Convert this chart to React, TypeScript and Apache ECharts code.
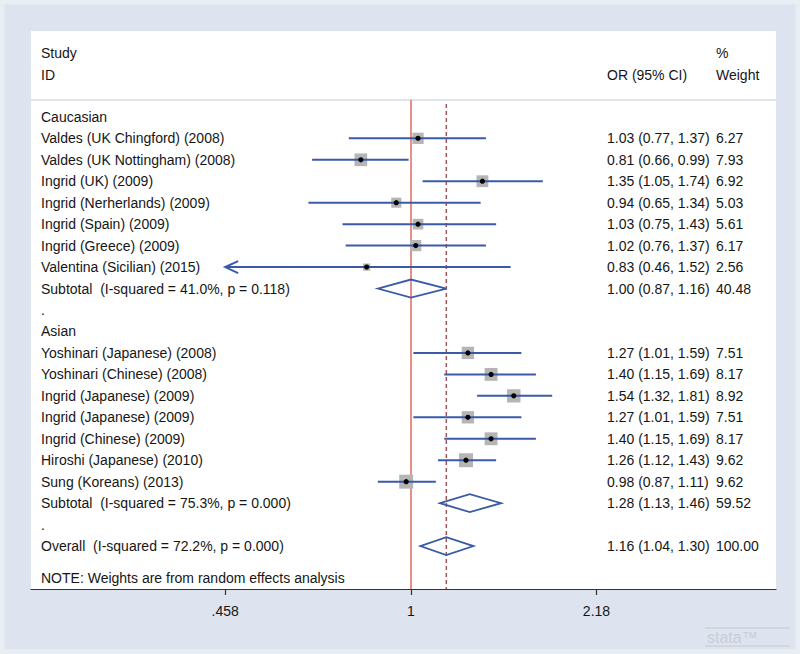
import React, { useEffect, useRef } from "react";
import * as echarts from "echarts";

// ---------- data ----------
const groupNames = ["Caucasian", "Asian"];

const studyNames = [
  "Valdes (UK Chingford) (2008)",
  "Valdes (UK Nottingham) (2008)",
  "Ingrid (UK) (2009)",
  "Ingrid (Nerherlands) (2009)",
  "Ingrid (Spain) (2009)",
  "Ingrid (Greece) (2009)",
  "Valentina (Sicilian) (2015)",
  "Yoshinari (Japanese) (2008)",
  "Yoshinari (Chinese) (2008)",
  "Ingrid (Japanese) (2009)",
  "Ingrid (Japanese) (2009)",
  "Ingrid (Chinese) (2009)",
  "Hiroshi (Japanese) (2010)",
  "Sung (Koreans) (2013)",
];
const studyGroup = [0, 0, 0, 0, 0, 0, 0, 1, 1, 1, 1, 1, 1, 1];
const studyOR = [1.03, 0.81, 1.35, 0.94, 1.03, 1.02, 0.83, 1.27, 1.4, 1.54, 1.27, 1.4, 1.26, 0.98];
const studyLower = [0.77, 0.66, 1.05, 0.65, 0.75, 0.76, 0.46, 1.01, 1.15, 1.32, 1.01, 1.15, 1.12, 0.87];
const studyUpper = [1.37, 0.99, 1.74, 1.34, 1.43, 1.37, 1.52, 1.59, 1.69, 1.81, 1.59, 1.69, 1.43, 1.11];
const studyWeight = [6.27, 7.93, 6.92, 5.03, 5.61, 6.17, 2.56, 7.51, 8.17, 8.92, 7.51, 8.17, 9.62, 9.62];

const pooledNames = [
  "Subtotal  (I-squared = 41.0%, p = 0.118)",
  "Subtotal  (I-squared = 75.3%, p = 0.000)",
  "Overall  (I-squared = 72.2%, p = 0.000)",
];
const pooledOR = [1.0, 1.28, 1.16];
const pooledLower = [0.87, 1.13, 1.04];
const pooledUpper = [1.16, 1.46, 1.3];
const pooledWeight = [40.48, 59.52, 100.0];

const tickValues = [0.458, 1, 2.18];
const tickLabels = [".458", "1", "2.18"];
const noteText = "NOTE: Weights are from random effects analysis";

// ---------- build rows ----------
type Row = {
  kind: "head" | "study" | "pooled" | "dot";
  label: string;
  or?: number;
  lo?: number;
  hi?: number;
  w?: number;
};
const rows: Row[] = [];
groupNames.forEach((g, gi) => {
  rows.push({ kind: "head", label: g });
  studyNames.forEach((n, i) => {
    if (studyGroup[i] === gi)
      rows.push({ kind: "study", label: n, or: studyOR[i], lo: studyLower[i], hi: studyUpper[i], w: studyWeight[i] });
  });
  rows.push({ kind: "pooled", label: pooledNames[gi], or: pooledOR[gi], lo: pooledLower[gi], hi: pooledUpper[gi], w: pooledWeight[gi] });
  rows.push({ kind: "dot", label: "." });
});
rows.push({ kind: "pooled", label: pooledNames[2], or: pooledOR[2], lo: pooledLower[2], hi: pooledUpper[2], w: pooledWeight[2] });

const ln = Math.log;
const fmt = (v: number) => v.toFixed(2);

const FONT = '"Liberation Sans", Arial, Helvetica, sans-serif';
const FS = 14;
const TEXT_COLOR = "#161616";
const BLUE = "#3a5aa8";

export default function App() {
  const ref = useRef<HTMLDivElement>(null);
  useEffect(() => {
    if (!ref.current) return;
    const chart = echarts.init(ref.current, null, { renderer: "svg" });
    const xMin = -(411 - 31) / 238;
    const xMax = (776 - 411) / 238;
    const axisLow = tickValues[0];
    const txt = (text: string, left: number, top: number) => ({
      type: "text",
      left,
      top,
      style: { text, fontSize: FS, fontFamily: FONT, fill: TEXT_COLOR },
    });

    const option: any = {
      animation: false,
      backgroundColor: "#dde4ef",
      grid: {
        left: 31,
        right: 24,
        top: 31,
        bottom: 65,
        show: true,
        backgroundColor: "#ffffff",
        borderWidth: 0,
      },
      xAxis: {
        type: "value",
        min: xMin,
        max: xMax,
        splitLine: { show: false },
        axisLine: { show: true, onZero: false, lineStyle: { color: "#333", width: 1.2 } },
        axisTick: {
          show: true,
          length: 6,
          lineStyle: { color: "#333", width: 1.2 },
          customValues: tickValues.map((v) => ln(v)),
        },
        axisLabel: {
          show: true,
          margin: 15,
          fontSize: FS,
          fontFamily: FONT,
          color: TEXT_COLOR,
          customValues: tickValues.map((v) => ln(v)),
          formatter: (val: number) => {
            let best = 0;
            tickValues.forEach((t, i) => {
              if (Math.abs(ln(t) - val) < Math.abs(ln(tickValues[best]) - val)) best = i;
            });
            return tickLabels[best];
          },
        },
      },
      yAxis: {
        type: "value",
        inverse: true,
        min: -4,
        max: 22,
        show: false,
      },
      graphic: [
        {
          type: "rect",
          shape: { x: 2, y: 2, width: 796, height: 650 },
          style: { fill: "none", stroke: "#e9edf4", lineWidth: 5 },
          silent: true,
        },
        txt("Study", 41, 46),
        txt("ID", 41, 68),
        txt("OR (95% CI)", 607, 68),
        txt("%", 716, 46),
        txt("Weight", 716, 68),
        { type: "line", shape: { x1: 31, y1: 100, x2: 776, y2: 100 }, style: { stroke: "#d5dbe3", lineWidth: 1.5 } },
        txt(noteText, 41, 571),
        { type: "line", shape: { x1: 705, y1: 628, x2: 790, y2: 628 }, style: { stroke: "#c4c9d2", lineWidth: 1 } },
        { type: "line", shape: { x1: 705, y1: 646, x2: 790, y2: 646 }, style: { stroke: "#c4c9d2", lineWidth: 1 } },
        {
          type: "text",
          left: 707,
          top: 629,
          style: { text: "stata™", fontSize: 16, fontFamily: FONT, fill: "#c9cdd5" },
        },
      ],
      series: [
        {
          type: "custom",
          name: "reference",
          data: [[0]],
          silent: true,
          renderItem: (params: any, api: any) => {
            const top = api.coord([0, -0.78]);
            const bot = api.coord([0, 22]);
            const dTop = api.coord([ln(pooledOR[2]), -0.6]);
            const dx = api.coord([ln(pooledOR[2]), 22])[0];
            return {
              type: "group",
              children: [
                {
                  type: "line",
                  shape: { x1: top[0], y1: top[1], x2: bot[0], y2: bot[1] },
                  style: { stroke: "#e5695c", lineWidth: 1.5 },
                },
                {
                  type: "line",
                  shape: { x1: dx, y1: dTop[1], x2: dx, y2: bot[1] },
                  style: { stroke: "#a2565a", lineWidth: 1.5, lineDash: [4, 3] },
                },
              ],
            };
          },
          z: 1,
        },
        {
          type: "custom",
          name: "rows",
          data: rows.map((_, i) => [i]),
          silent: true,
          z: 2,
          renderItem: (params: any, api: any) => {
            const i = api.value(0);
            const r = rows[i];
            const cs = params.coordSys;
            const y = api.coord([0, i])[1];
            const children: any[] = [
              {
                type: "text",
                x: cs.x + 10,
                y,
                style: { text: r.label, fontSize: FS, fontFamily: FONT, fill: TEXT_COLOR, textVerticalAlign: "middle" },
              },
            ];
            if (r.kind === "study" || r.kind === "pooled") {
              children.push({
                type: "text",
                x: 607,
                y,
                style: {
                  text: `${fmt(r.or!)} (${fmt(r.lo!)}, ${fmt(r.hi!)})`,
                  fontSize: FS,
                  fontFamily: FONT,
                  fill: TEXT_COLOR,
                  textVerticalAlign: "middle",
                },
              });
              children.push({
                type: "text",
                x: 716,
                y,
                style: { text: fmt(r.w!), fontSize: FS, fontFamily: FONT, fill: TEXT_COLOR, textVerticalAlign: "middle" },
              });
            }
            if (r.kind === "study") {
              const clipped = Math.round(r.lo! * 100) <= Math.round(axisLow * 100);
              const xl = api.coord([ln(clipped ? axisLow : r.lo!), i])[0];
              const xh = api.coord([ln(r.hi!), i])[0];
              const xc = api.coord([ln(r.or!), i])[0];
              const side = 4.5 * Math.sqrt(r.w!);
              children.push({
                type: "rect",
                shape: { x: xc - side / 2, y: y - side / 2, width: side, height: side },
                style: { fill: "#b5b5b5" },
              });
              children.push({
                type: "line",
                shape: { x1: xl, y1: y, x2: xh, y2: y },
                style: { stroke: BLUE, lineWidth: 2 },
              });
              if (clipped) {
                children.push({
                  type: "polyline",
                  shape: { points: [[xl + 13, y - 6], [xl, y], [xl + 13, y + 6]] },
                  style: { stroke: BLUE, lineWidth: 2, fill: "none" },
                });
              }
              children.push({
                type: "circle",
                shape: { cx: xc, cy: y, r: 2.6 },
                style: { fill: "#000" },
              });
            }
            if (r.kind === "pooled") {
              const xl = api.coord([ln(r.lo!), i])[0];
              const xh = api.coord([ln(r.hi!), i])[0];
              const xc = api.coord([ln(r.or!), i])[0];
              children.push({
                type: "polygon",
                shape: { points: [[xl, y], [xc, y - 9], [xh, y], [xc, y + 9]] },
                style: { stroke: BLUE, lineWidth: 1.8, fill: "none" },
              });
            }
            return { type: "group", children };
          },
        },
      ],
    };
    chart.setOption(option);
    return () => chart.dispose();
  }, []);
  return <div ref={ref} style={{ position: "fixed", left: 0, top: 0, width: 800, height: 654 }} />;
}
